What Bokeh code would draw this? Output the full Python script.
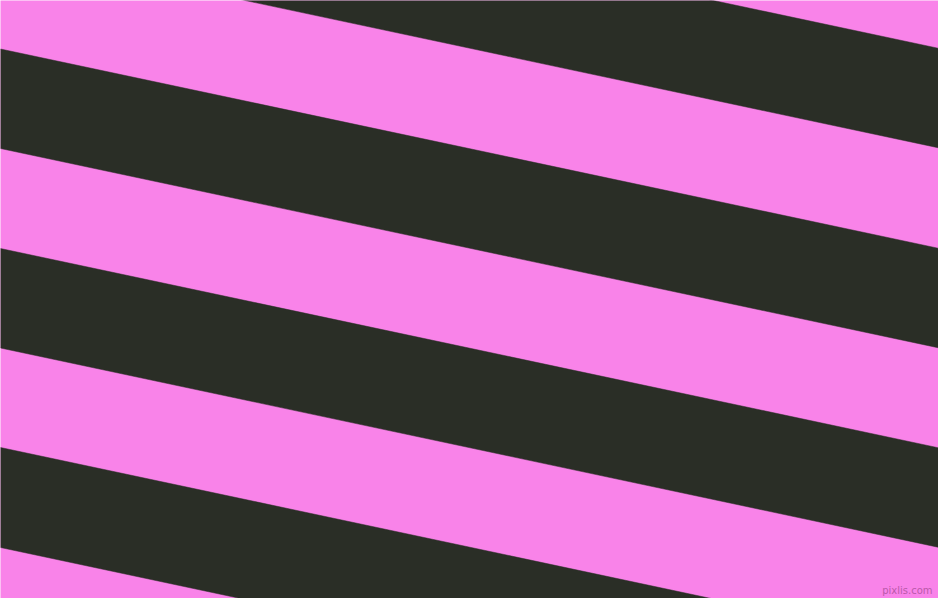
from bokeh.plotting import figure
from bokeh.models import Range1d
from bokeh.embed import file_html
from bokeh.resources import INLINE
from bokeh.core.properties import value

# Stripe pattern data (image coordinates, y downward)
img_w = 938
img_h = 598
slope = 0.2125                     # vertical drop per pixel to the right
dark_top = [-151.5, 48.5, 248.0, 447.0]     # top edge of dark bands at x=0
dark_bottom = [-52.0, 148.0, 347.5, 547.0]  # bottom edge of dark bands at x=0
pink = "#F983E9"
dark = "#2A2E26"
watermark = "pixlis.com"

p = figure(width=938, height=598, output_backend="svg", toolbar_location=None,
           x_range=Range1d(0, img_w), y_range=Range1d(img_h, 0),
           min_border=0, background_fill_color=pink, border_fill_color=pink)
p.axis.visible = False
p.grid.visible = False
p.outline_line_color = None

xs, ys = [], []
for t, b in zip(dark_top, dark_bottom):
    drop = img_w * slope
    xs.append([0, img_w, img_w, 0])
    ys.append([t, t + drop, b + drop, b])
p.patches(xs, ys, fill_color=dark, line_color=dark, line_width=0.5)

p.text(x=[932], y=[595], text=[watermark], text_align="right", text_baseline="bottom",
       text_font=value("DejaVu Sans"), text_font_size="10px", text_color="#b95aaa")

open("out.html", "w").write(file_html(p, INLINE))
